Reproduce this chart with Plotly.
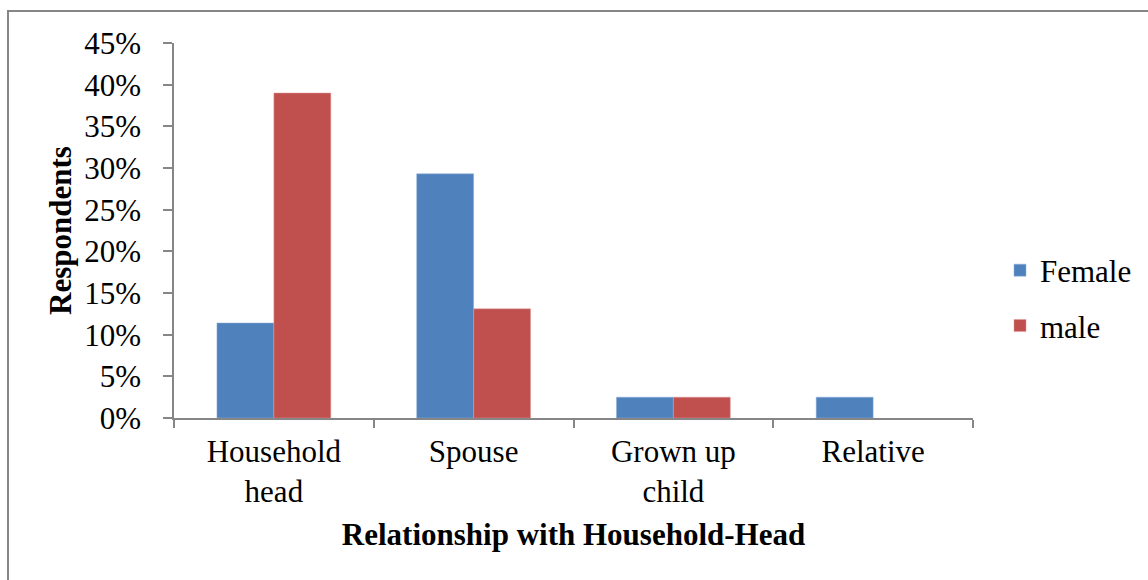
import plotly.graph_objects as go

categories = ["Household<br>head", "Spouse", "Grown up<br>child", "Relative"]
female = [0.114, 0.293, 0.025, 0.025]
male = [0.39, 0.131, 0.025, 0.0]
y_ticks = [0, 0.05, 0.10, 0.15, 0.20, 0.25, 0.30, 0.35, 0.40, 0.45]

W, H = 1148, 580
L, R, T, B = 174, 175, 43, 162
pw, ph = W - L - R, H - T - B

font_family = "Liberation Serif, Times New Roman, serif"
FS = 31

fig = go.Figure()
fig.add_trace(go.Bar(x=categories, y=female, name="Female", marker_color="#4F81BD",
                     marker_line=dict(color="#8FB0DA", width=[0.5 if v > 0 else 0 for v in female]),
                     legendgroup="f"))
fig.add_trace(go.Bar(x=categories, y=male, name="male", marker_color="#C0504D",
                     marker_line=dict(color="#E09A98", width=[0.5 if v > 0 else 0 for v in male]),
                     legendgroup="m"))

fig.update_layout(
    width=W, height=H,
    margin=dict(l=L, r=R, t=T, b=B, autoexpand=False),
    paper_bgcolor="white", plot_bgcolor="white",
    barmode="group", bargap=0.43, bargroupgap=0,
    font=dict(family=font_family, size=FS, color="black"),
    legend=dict(x=(1000 - L) / pw, y=0.32, xanchor="left", yanchor="middle",
                font=dict(size=FS), tracegroupgap=12, traceorder="grouped",
                itemwidth=30, bgcolor="rgba(0,0,0,0)"),
    xaxis=dict(
        showline=True, linecolor="#868686", linewidth=1.5,
        ticks="outside", tickson="boundaries", ticklen=8, tickcolor="#868686", tickwidth=1.5,
        tickfont=dict(size=FS), ticklabelstandoff=5,
        title=dict(text="<b>Relationship with Household-Head</b>", font=dict(size=FS), standoff=15),
        showgrid=False,
    ),
    yaxis=dict(
        range=[0, 0.45], tickvals=y_ticks, tickformat=".0%",
        showline=True, linecolor="#868686", linewidth=1.5,
        ticks="outside", ticklen=9, tickcolor="#868686", tickwidth=1.5,
        tickfont=dict(size=FS), ticklabelstandoff=16,
        showgrid=False, zeroline=False,
        title=dict(text="<b>Respondents</b>", font=dict(size=FS), standoff=3),
    ),
    shapes=[dict(type="rect", xref="paper", yref="paper",
                 x0=(8 - L) / pw, x1=1.4, y0=-0.6, y1=(H - B - 11) / ph,
                 line=dict(color="#868686", width=2), fillcolor="rgba(0,0,0,0)", layer="below")],
)

fig.write_html("out.html", config={"displayModeBar": False},
               post_script="document.body.style.margin='0';")
